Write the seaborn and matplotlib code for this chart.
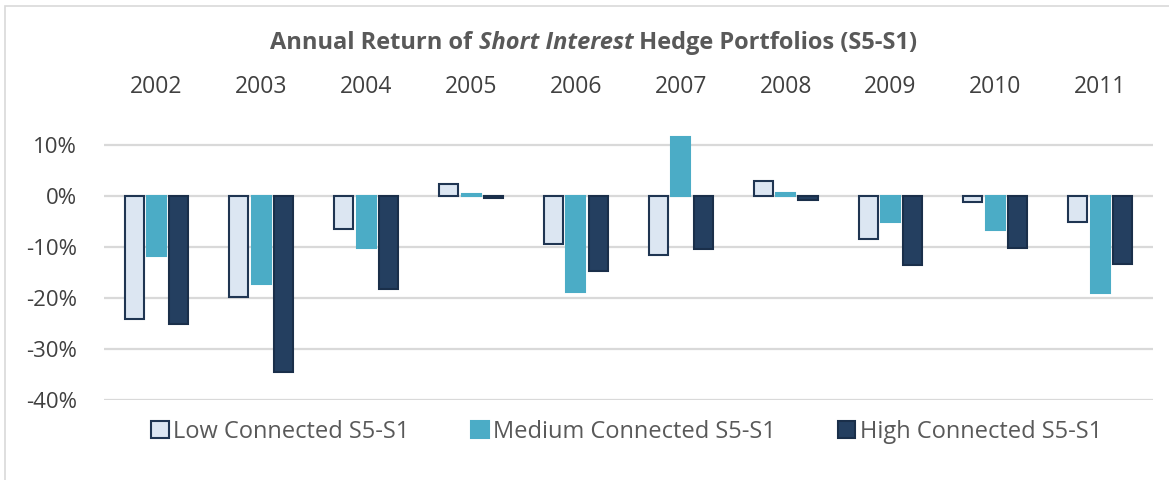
import matplotlib
matplotlib.use("Agg")
import matplotlib.pyplot as plt
from matplotlib.patches import Patch, Rectangle
from matplotlib.ticker import FuncFormatter
import seaborn as sns
import pandas as pd

years = ["2002", "2003", "2004", "2005", "2006", "2007", "2008", "2009", "2010", "2011"]
low = [-24.0, -19.7, -6.5, 2.5, -9.4, -11.5, 3.1, -8.4, -1.2, -5.1]
medium = [-11.8, -17.3, -10.2, 0.4, -18.7, 11.7, 0.6, -5.0, -6.7, -18.9]
high = [-25.0, -34.6, -18.2, -0.3, -14.6, -10.4, -0.8, -13.4, -10.1, -13.3]
series = ["Low Connected S5-S1", "Medium Connected S5-S1", "High Connected S5-S1"]
yticks = [10, 0, -10, -20, -30, -40]

df = pd.DataFrame({
    "year": years * 3,
    "value": [v / 100 for v in low + medium + high],
    "series": [series[0]] * 10 + [series[1]] * 10 + [series[2]] * 10,
})

sns.set_theme(style="white")
plt.rcParams["font.family"] = ["Open Sans", "DejaVu Sans"]

fills = ["#DCE6F2", "#4BACC6", "#243F60"]
edges = ["#1F3552", "#4BACC6", "#1A2F4A"]
text_col = "#595959"

fig = plt.figure(figsize=(11.69, 4.80), dpi=100)
ax = fig.add_axes([0.089, 0.1667, 0.897, 0.5833])

sns.barplot(data=df, x="year", y="value", hue="series", order=years,
            hue_order=series, palette=fills, saturation=1, width=0.64, gap=0.15,
            ax=ax, legend=False, errorbar=None, zorder=3)

for cont, ec in zip(ax.containers, edges):
    for bar in cont:
        bar.set_edgecolor(ec)
        bar.set_linewidth(1.5)

ax.set_ylim(-0.40, 0.15)
ax.set_xlim(-0.5, 9.5)
ax.set_yticks([t / 100 for t in yticks])
ax.yaxis.set_major_formatter(FuncFormatter(lambda v, p: f"{v*100:.0f}%"))
ax.grid(axis="y", color="#D9D9D9", linewidth=1.6, zorder=0)
ax.grid(axis="x", visible=False)
for s in ax.spines.values():
    s.set_visible(False)
ax.set_xlabel("")
ax.set_ylabel("")
ax.tick_params(axis="x", top=False, labeltop=True, bottom=False, labelbottom=False,
               length=0, pad=15, labelsize=16.5, labelcolor="#404040")
ax.tick_params(axis="y", length=0, pad=19.5, labelsize=16, labelcolor="#404040")

# Title with an italic segment
renderer = fig.canvas.get_renderer()
parts = [("Annual Return of ", "normal"), ("Short Interest", "italic"),
         (" Hedge Portfolios (S5-S1)", "normal")]
texts = []
widths = []
for s, st in parts:
    t = fig.text(0, 1 - 43 / 480, s, fontsize=17, fontweight="bold", style=st,
                 color=text_col, va="center", ha="left")
    texts.append(t)
    widths.append(t.get_window_extent(renderer).width)
total = sum(widths)
x = (fig.bbox.width * 0.508 - total / 2)
for t, w in zip(texts, widths):
    t.set_x(x / fig.bbox.width)
    x += w

handles = [Patch(facecolor=f, edgecolor=e, linewidth=1.5) for f, e in zip(fills, edges)]
fig.legend(handles, series, loc="center", bbox_to_anchor=(0.536, 1 - 432 / 480),
           ncol=3, frameon=False, fontsize=17, handlelength=0.75, handleheight=0.75,
           handletextpad=0.2, columnspacing=2.6, labelcolor=text_col)

fig.patches.append(Rectangle((5 / 1169, -0.05), 1.1, 1.05 - 6 / 480,
                             transform=fig.transFigure, fill=False,
                             edgecolor="#D9D9D9", linewidth=1.2))

fig.savefig("out.png", dpi=100)
